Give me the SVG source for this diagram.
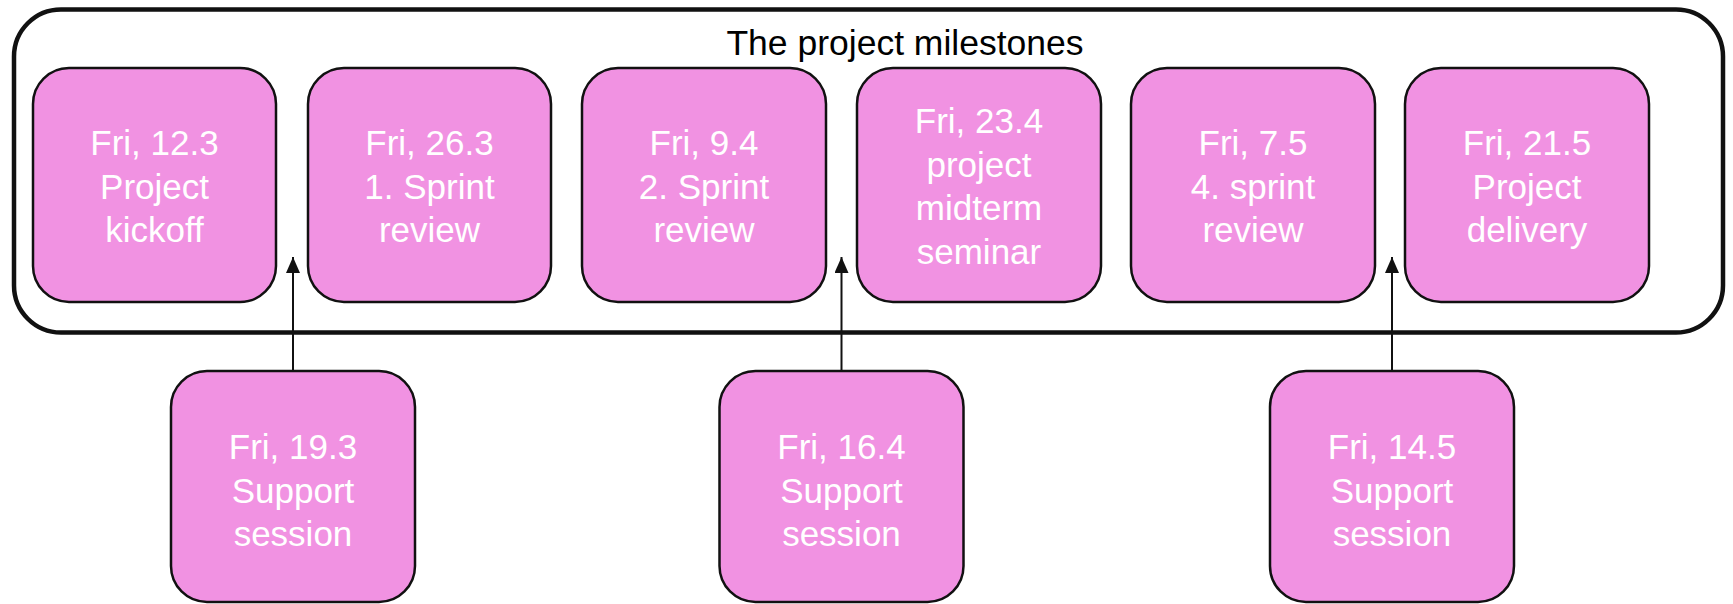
<svg xmlns="http://www.w3.org/2000/svg" width="1733" height="604" viewBox="0 0 1733 604">
<style>
.node rect{fill:#f192e2;stroke:#111;stroke-width:2.5}
.node text{fill:#fff;font-family:"Liberation Sans",Arial,sans-serif;font-size:35px;text-anchor:middle}
.title{fill:#000;font-family:"Liberation Sans",Arial,sans-serif;font-size:35.5px;text-anchor:middle}
.conn line{stroke:#111;stroke-width:2;marker-end:url(#arr)}
</style>
<defs>
<marker id="arr" markerUnits="userSpaceOnUse" markerWidth="16" markerHeight="14" refX="16" refY="7" orient="auto" viewBox="0 0 16 14">
<path d="M0,0 L16,7 L0,14 Z" fill="#111"/>
</marker>
</defs>
<rect width="1733" height="604" fill="#fff"/>
<g id="container">
<rect x="14" y="9.5" width="1709" height="323" rx="47" ry="47" fill="none" stroke="#111" stroke-width="4.5"/>
<text class="title" x="905" y="55">The project milestones</text>
</g>
<g id="n1" class="node"><rect x="33" y="68" width="243" height="234" rx="36"/><text x="154.5" y="155">Fri, 12.3</text><text x="154.5" y="198.5">Project</text><text x="154.5" y="242">kickoff</text></g>
<g id="n2" class="node"><rect x="308" y="68" width="243" height="234" rx="36"/><text x="429.5" y="155">Fri, 26.3</text><text x="429.5" y="198.5">1. Sprint</text><text x="429.5" y="242">review</text></g>
<g id="n3" class="node"><rect x="582" y="68" width="244" height="234" rx="36"/><text x="704" y="155">Fri, 9.4</text><text x="704" y="198.5">2. Sprint</text><text x="704" y="242">review</text></g>
<g id="n4" class="node"><rect x="857" y="68" width="244" height="234" rx="36"/><text x="979" y="133">Fri, 23.4</text><text x="979" y="176.5">project</text><text x="979" y="220">midterm</text><text x="979" y="263.5">seminar</text></g>
<g id="n5" class="node"><rect x="1131" y="68" width="244" height="234" rx="36"/><text x="1253" y="155">Fri, 7.5</text><text x="1253" y="198.5">4. sprint</text><text x="1253" y="242">review</text></g>
<g id="n6" class="node"><rect x="1405" y="68" width="244" height="234" rx="36"/><text x="1527" y="155">Fri, 21.5</text><text x="1527" y="198.5">Project</text><text x="1527" y="242">delivery</text></g>
<g id="s1" class="node"><rect x="171" y="371" width="244" height="231" rx="36"/><text x="293" y="459">Fri, 19.3</text><text x="293" y="502.5">Support</text><text x="293" y="546">session</text></g>
<g id="s2" class="node"><rect x="719.5" y="371" width="244" height="231" rx="36"/><text x="841.5" y="459">Fri, 16.4</text><text x="841.5" y="502.5">Support</text><text x="841.5" y="546">session</text></g>
<g id="s3" class="node"><rect x="1270" y="371" width="244" height="231" rx="36"/><text x="1392" y="459">Fri, 14.5</text><text x="1392" y="502.5">Support</text><text x="1392" y="546">session</text></g>
<g id="connectors" class="conn">
<line x1="293" y1="371" x2="293" y2="257"/>
<line x1="841.5" y1="371" x2="841.5" y2="257"/>
<line x1="1392" y1="371" x2="1392" y2="257"/>
</g>
</svg>
